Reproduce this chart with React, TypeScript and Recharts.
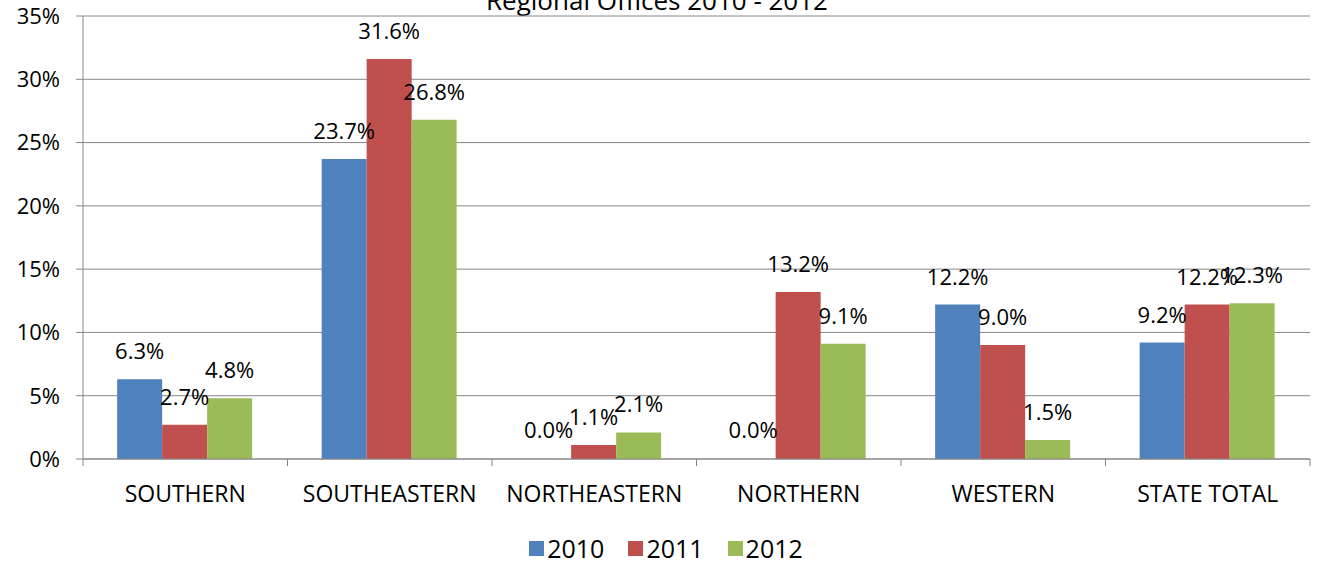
import React from 'react';
import { BarChart, Bar, XAxis, YAxis, CartesianGrid, Legend, LabelList, Rectangle } from 'recharts';

const regions = ['SOUTHERN', 'SOUTHEASTERN', 'NORTHEASTERN', 'NORTHERN', 'WESTERN', 'STATE TOTAL'];
const values2010 = [6.3, 23.7, 0.0, 0.0, 12.2, 9.2];
const values2011 = [2.7, 31.6, 1.1, 13.2, 9.0, 12.2];
const values2012 = [4.8, 26.8, 2.1, 9.1, 1.5, 12.3];
const yTicks = [0, 5, 10, 15, 20, 25, 30, 35];

const seriesInfo = [
  { key: 'y2010', name: '2010', color: '#4F81BD' },
  { key: 'y2011', name: '2011', color: '#C0504D' },
  { key: 'y2012', name: '2012', color: '#9BBB59' },
];

const data = regions.map((region, i) => ({
  region,
  y2010: values2010[i],
  y2011: values2011[i],
  y2012: values2012[i],
}));

const FONT = '"Open Sans", sans-serif';
const GRID = '#868686';

const CategoryTick = (props: any) => {
  const { x, y, payload, index } = props;
  const half = payload && payload.offset ? payload.offset : 102.3;
  return (
    <g>
      <line x1={x - half} y1={y} x2={x - half} y2={y + 7} stroke={GRID} />
      {index === regions.length - 1 && (
        <line x1={x + half} y1={y} x2={x + half} y2={y + 7} stroke={GRID} />
      )}
      <text x={x} y={y + 43} textAnchor="middle" fontFamily={FONT} fontSize={23} fill="#000">
        {payload.value}
      </text>
    </g>
  );
};

// zero values get a 1px bar so the label still shows; the bar itself is not drawn
const BarShape = (props: any) => {
  if (props.height <= 1.01) return <g />;
  return <Rectangle {...props} />;
};

const LegendContent = () => (
  <div
    style={{
      height: 56,
      display: 'flex',
      justifyContent: 'center',
      alignItems: 'flex-start',
      paddingTop: 22,
      paddingLeft: 22,
      boxSizing: 'border-box',
      fontFamily: FONT,
      fontSize: 25,
      lineHeight: '32px',
      color: '#000',
    }}
  >
    {seriesInfo.map((s) => (
      <div key={s.key} style={{ display: 'flex', alignItems: 'center', margin: '0 12px' }}>
        <span style={{ width: 15, height: 15, background: s.color, display: 'inline-block', marginRight: 3 }} />
        <span>{s.name}</span>
      </div>
    ))}
  </div>
);

export default function App() {
  return (
    <div style={{ position: 'absolute', left: 0, top: 0, width: 1328, height: 566, background: '#fff', overflow: 'hidden' }}>
      <div
        style={{
          position: 'absolute',
          left: 0,
          width: 1314,
          top: -18,
          textAlign: 'center',
          fontFamily: FONT,
          fontSize: 26,
          lineHeight: '36px',
          color: '#000',
        }}
      >
        Regional Offices 2010 - 2012
      </div>
      <BarChart
        width={1328}
        height={566}
        data={data}
        margin={{ top: 16, right: 18, left: 0, bottom: 0 }}
        barCategoryGap="16.7%"
        barGap={0}
      >
        <CartesianGrid vertical={false} stroke={GRID} />
        <XAxis
          dataKey="region"
          height={51}
          axisLine={{ stroke: GRID }}
          tickLine={false}
          tickSize={0}
          tickMargin={0}
          interval={0}
          tick={<CategoryTick />}
        />
        <YAxis
          width={83}
          domain={[0, 35]}
          ticks={yTicks}
          interval={0}
          axisLine={{ stroke: GRID }}
          tickLine={{ stroke: GRID }}
          tickSize={7}
          tickMargin={16}
          tickFormatter={(v: number) => `${v}%`}
          tick={{ fill: '#000', fontFamily: FONT, fontSize: 22 }}
        />
        <Legend verticalAlign="bottom" content={<LegendContent />} />
        {seriesInfo.map((s) => (
          <Bar
            key={s.key}
            dataKey={s.key}
            name={s.name}
            fill={s.color}
            minPointSize={1}
            shape={<BarShape />}
            isAnimationActive={false}
          >
            <LabelList
              dataKey={s.key}
              position="top"
              offset={20}
              formatter={(v: any) => `${Number(v).toFixed(1)}%`}
              style={{ fill: '#000', fontFamily: FONT, fontSize: 22 }}
            />
          </Bar>
        ))}
      </BarChart>
    </div>
  );
}
